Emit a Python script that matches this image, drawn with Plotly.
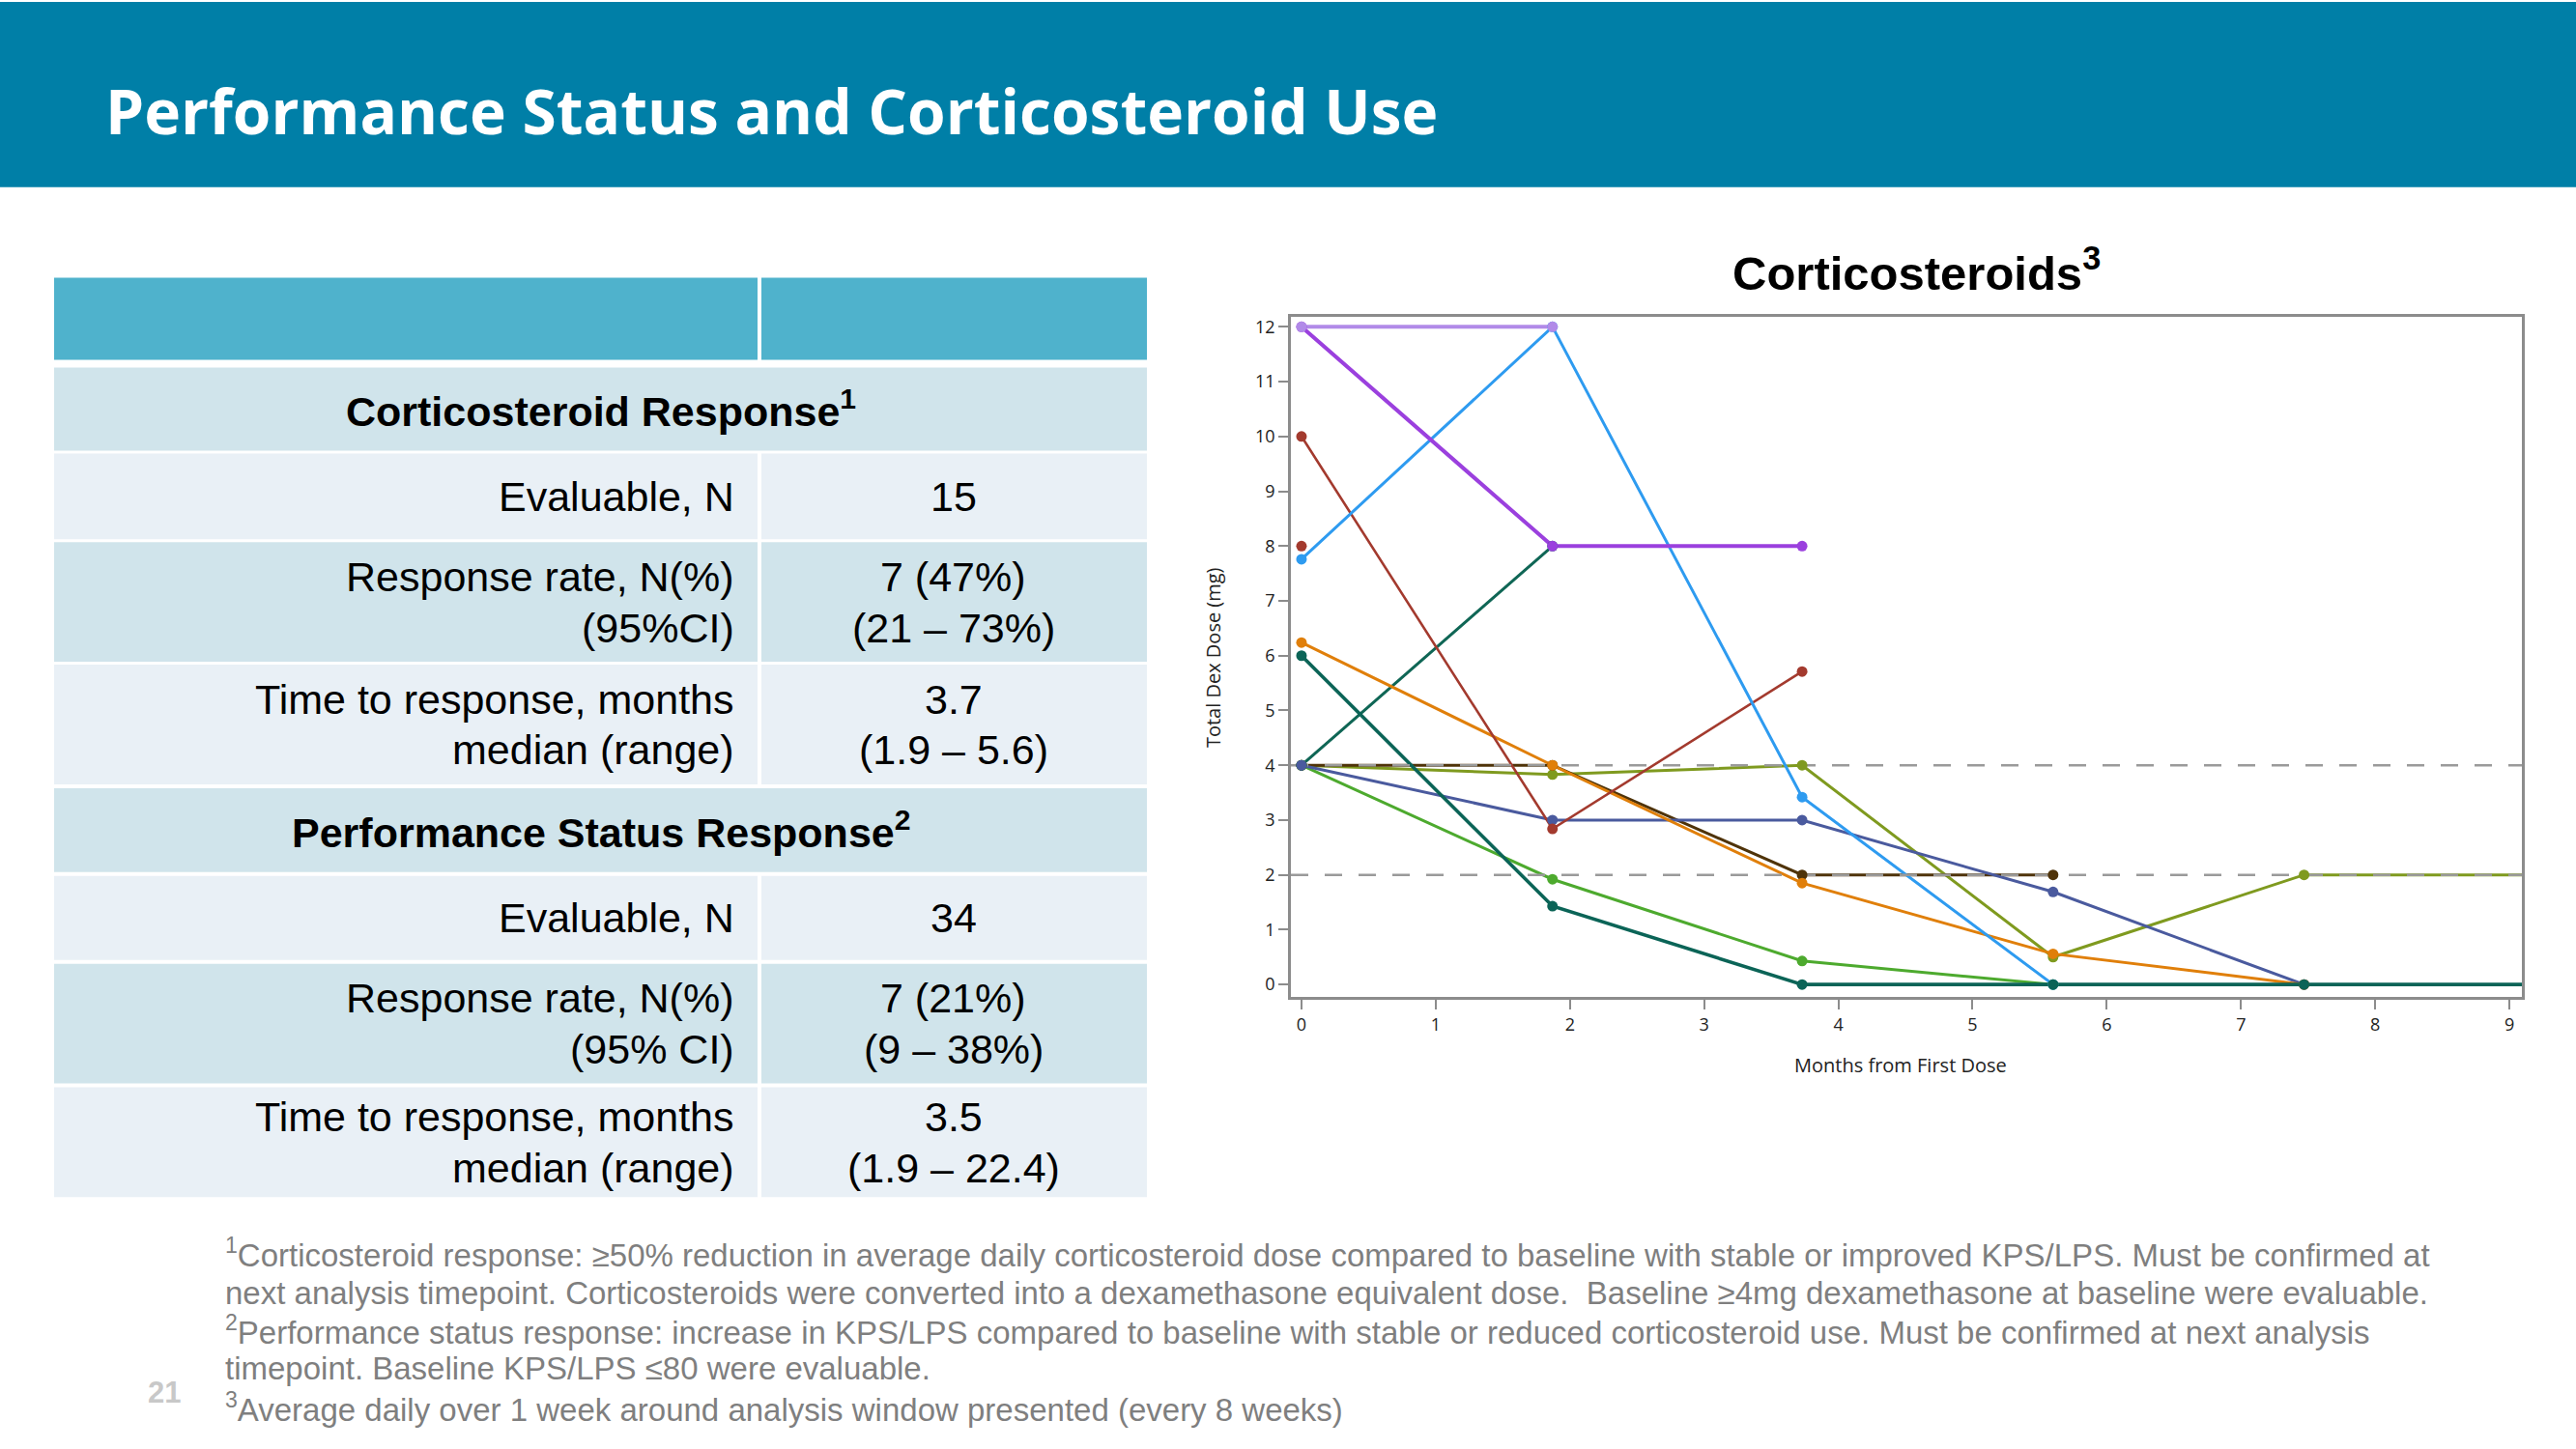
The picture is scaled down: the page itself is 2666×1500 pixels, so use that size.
import plotly.graph_objects as go

W, H = 2666, 1500

# ---------------- data ----------------
months = [0, 1.87, 3.73, 5.6, 7.47, 9.33]
x_ticks = [0, 1, 2, 3, 4, 5, 6, 7, 8, 9]
y_ticks = [0, 1, 2, 3, 4, 5, 6, 7, 8, 9, 10, 11, 12]

green_vals = [4, 1.92, 0.43, 0]
olive_vals = [4, 3.83, 4, 0.5, 2, 2]
brown_vals = [4, 4, 2, 2]
tealB_vals = [4, 8]
slate_vals = [4, 3, 3, 1.69, 0]
orange_vals = [6.24, 4, 1.85, 0.56, 0]
red_vals = [10, 2.84, 5.71]
red2_vals = [8]
blue_vals = [7.76, 12, 3.42, 0]
purple_vals = [12, 8, 8]
lavender_vals = [12, 12]
tealA_vals = [6, 1.43, 0, 0, 0, 0]

ref_levels = [4, 2]

table_sections = ["Corticosteroid Response<sup>1</sup>", "Performance Status Response<sup>2</sup>"]
row_labels = [
    ["Evaluable, N"],
    ["Response rate, N(%)", "(95%CI)"],
    ["Time to response, months", "median (range)"],
    ["Evaluable, N"],
    ["Response rate, N(%)", "(95% CI)"],
    ["Time to response, months", "median (range)"],
]
row_values = [
    ["15"],
    ["7 (47%)", "(21 \u2013 73%)"],
    ["3.7", "(1.9 \u2013 5.6)"],
    ["34"],
    ["7 (21%)", "(9 \u2013 38%)"],
    ["3.5", "(1.9 \u2013 22.4)"],
]

footnotes = [
    "<sup>1</sup>Corticosteroid response: \u226550% reduction in average daily corticosteroid dose compared to baseline with stable or improved KPS/LPS. Must be confirmed at",
    "next analysis timepoint. Corticosteroids were converted into a dexamethasone equivalent dose.  Baseline \u22654mg dexamethasone at baseline were evaluable.",
    "<sup>2</sup>Performance status response: increase in KPS/LPS compared to baseline with stable or reduced corticosteroid use. Must be confirmed at next analysis",
    "timepoint. Baseline KPS/LPS \u226480 were evaluable.",
    "<sup>3</sup>Average daily over 1 week around analysis window presented (every 8 weeks)",
]

# series: (values, colour, line width)
series = [
    (green_vals, "#4DAA2E", 3),
    (olive_vals, "#7F9A1F", 3),
    (brown_vals, "#4F3309", 3),
    (tealB_vals, "#0F6655", 3),
    (slate_vals, "#4A5A9E", 3),
    (orange_vals, "#E07F0A", 3),
    (red_vals, "#A33A2E", 2.6),
    (red2_vals, "#A33A2E", 2.6),
    (blue_vals, "#2E9BF0", 3),
    (purple_vals, "#9B40DE", 4),
    (lavender_vals, "#B18AE8", 4),
    (tealA_vals, "#0B6457", 3.6),
]

# ---------------- helpers ----------------
def px(x):
    return x / W

def py(y):
    return 1 - y / H

fig = go.Figure()

x_range = [-0.079, 9.093]
y_range = [-0.232, 12.19]

# lines first
for vals, col, lw in series:
    fig.add_trace(go.Scatter(x=months[:len(vals)], y=vals, mode="lines",
                             line=dict(color=col, width=lw), showlegend=False,
                             hoverinfo="skip"))
# reference lines
for lv in ref_levels:
    fig.add_trace(go.Scatter(x=[x_range[0], x_range[1]], y=[lv, lv], mode="lines",
                             line=dict(color="#9A9A9A", width=2.6, dash="18px,17px"),
                             showlegend=False, hoverinfo="skip"))
# markers on top
for vals, col, lw in series:
    fig.add_trace(go.Scatter(x=months[:len(vals)], y=vals, mode="markers",
                             marker=dict(color=col, size=11, line=dict(width=0)),
                             showlegend=False))

shapes = []
annotations = []

# header bar
shapes.append(dict(type="rect", xref="paper", yref="paper", x0=0, x1=1,
                   y0=py(192), y1=1, fillcolor="#007FA7", line=dict(width=0), layer="below"))
annotations.append(dict(xref="paper", yref="paper", x=px(107), y=py(113), xanchor="left",
                        yanchor="middle", showarrow=False,
                        text="<b>Performance Status and Corticosteroid Use</b>",
                        font=dict(family="Open Sans", size=64, color="white")))

# table
TL, TR, TD = 56, 1187, 786
HEAD_C, DARK_C, LIGHT_C = "#4FB2CC", "#D0E4EB", "#E9F0F6"
# header row
shapes.append(dict(type="rect", xref="paper", yref="paper", x0=px(TL), x1=px(TD - 2),
                   y0=py(371), y1=py(286), fillcolor=HEAD_C, line=dict(width=0), layer="below"))
shapes.append(dict(type="rect", xref="paper", yref="paper", x0=px(TD + 2), x1=px(TR),
                   y0=py(371), y1=py(286), fillcolor=HEAD_C, line=dict(width=0), layer="below"))

section_rows = [(379, 465), (815, 902)]
data_rows = [(468, 557), (560, 684), (687, 811), (906, 993), (997, 1121), (1125, 1239)]
data_colors = [LIGHT_C, DARK_C, LIGHT_C, LIGHT_C, DARK_C, LIGHT_C]

for (t, b), txt in zip(section_rows, table_sections):
    shapes.append(dict(type="rect", xref="paper", yref="paper", x0=px(TL), x1=px(TR),
                       y0=py(b), y1=py(t), fillcolor=DARK_C, line=dict(width=0), layer="below"))
    annotations.append(dict(xref="paper", yref="paper", x=px((TL + TR) / 2), y=py((t + b) / 2),
                            xanchor="center", yanchor="middle", showarrow=False,
                            text="<b>" + txt + "</b>",
                            font=dict(family="Liberation Sans", size=43, color="black")))

for (t, b), col, labs, vals in zip(data_rows, data_colors, row_labels, row_values):
    shapes.append(dict(type="rect", xref="paper", yref="paper", x0=px(TL), x1=px(TD - 2),
                       y0=py(b), y1=py(t), fillcolor=col, line=dict(width=0), layer="below"))
    shapes.append(dict(type="rect", xref="paper", yref="paper", x0=px(TD + 2), x1=px(TR),
                       y0=py(b), y1=py(t), fillcolor=col, line=dict(width=0), layer="below"))
    c = (t + b) / 2
    n = len(labs)
    offs = [0] if n == 1 else [-26.5, 26.5]
    for i in range(n):
        annotations.append(dict(xref="paper", yref="paper", x=px(762), y=py(c + offs[i]),
                                xanchor="right", yanchor="middle", showarrow=False,
                                text=labs[i],
                                font=dict(family="Liberation Sans", size=43, color="black")))
        annotations.append(dict(xref="paper", yref="paper", x=px((TD + TR) / 2), y=py(c + offs[i]),
                                xanchor="center", yanchor="middle", showarrow=False,
                                text=vals[i],
                                font=dict(family="Liberation Sans", size=43, color="black")))

# chart title and axis titles
annotations.append(dict(xref="paper", yref="paper", x=px(1983), y=py(277), xanchor="center",
                        yanchor="middle", showarrow=False, text="<b>Corticosteroids<sup>3</sup></b>",
                        font=dict(family="Liberation Sans", size=49, color="black")))
annotations.append(dict(xref="paper", yref="paper", x=px(1967), y=py(1102), xanchor="center",
                        yanchor="middle", showarrow=False, text="Months from First Dose",
                        font=dict(family="Open Sans", size=20, color="#222222")))
annotations.append(dict(xref="paper", yref="paper", x=px(1255), y=py(680), xanchor="center",
                        yanchor="middle", showarrow=False, text="Total Dex Dose (mg)", textangle=-90,
                        font=dict(family="Open Sans", size=20, color="#222222")))

# footnotes
foot_y = [1297, 1338, 1377, 1416, 1457]
for txt, yy in zip(footnotes, foot_y):
    annotations.append(dict(xref="paper", yref="paper", x=px(231), y=py(yy), xanchor="left",
                            yanchor="middle", showarrow=False, text=txt,
                            font=dict(family="Liberation Sans", size=33, color="#7F7F7F")))
annotations.append(dict(xref="paper", yref="paper", x=px(170), y=py(1441), xanchor="center",
                        yanchor="middle", showarrow=False, text="<b>21</b>",
                        font=dict(family="Liberation Sans", size=31, color="#C8C8C8")))

axis_common = dict(showgrid=False, zeroline=False, showline=True, mirror=True,
                   linecolor="#8C8C8C", linewidth=2.5, ticks="outside", ticklen=10,
                   tickwidth=2, tickcolor="#8C8C8C",
                   tickfont=dict(family="Open Sans", size=18, color="#222222"))

fig.update_layout(
    width=W, height=H, margin=dict(l=0, r=0, t=0, b=0),
    paper_bgcolor="white", plot_bgcolor="white",
    showlegend=False,
    shapes=shapes, annotations=annotations,
    xaxis=dict(domain=[px(1336), px(2610)], range=x_range, tickvals=x_ticks, **axis_common),
    yaxis=dict(domain=[py(1031.7), py(326)], range=y_range, tickvals=y_ticks, **axis_common),
)

fig.write_html("out.html", config={"displayModeBar": False},
               post_script="document.body.style.margin='0';")
